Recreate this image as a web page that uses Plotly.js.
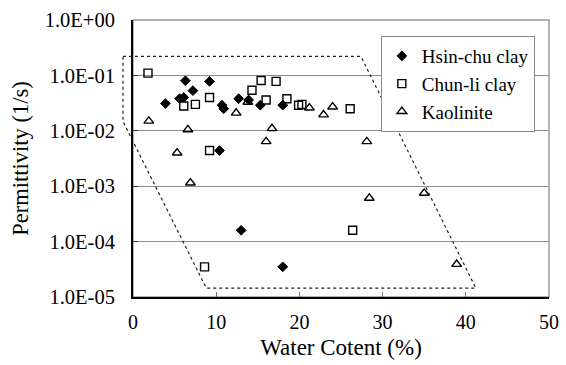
<!DOCTYPE html>
<html>
<head>
<meta charset="utf-8">
<script src="https://cdn.plot.ly/plotly-3.0.1.min.js"></script>
<style>
  html, body { margin: 0; padding: 0; background: #fff; }
  #chart { width: 566px; height: 365px; }
</style>
</head>
<body>
<div id="chart"></div>
<script>
// Water content (%) and permittivity (1/s) for each soil
const hsinchuWater = [3.9, 5.6, 6.1, 6.3, 7.2, 9.2, 10.7, 10.9, 10.4, 12.7, 13.9, 15.3, 18.0, 13.0, 18.0];
const hsinchuPerm  = [0.031, 0.038, 0.040, 0.080, 0.053, 0.078, 0.029, 0.025, 0.0044, 0.038, 0.036, 0.029, 0.029, 0.00016, 0.000035];

const chunliWater = [1.8, 6.1, 7.5, 9.2, 9.2, 14.3, 15.4, 17.2, 16.0, 18.5, 19.9, 20.3, 26.1, 8.6, 26.4];
const chunliPerm  = [0.110, 0.028, 0.030, 0.040, 0.0044, 0.054, 0.081, 0.078, 0.036, 0.038, 0.029, 0.030, 0.025, 0.000035, 0.00016];

const kaolinWater = [1.9, 6.6, 5.3, 6.9, 12.4, 13.8, 16.7, 16.0, 21.2, 22.9, 24.0, 28.1, 28.4, 31.3, 35.0, 38.9];
const kaolinPerm  = [0.015, 0.0105, 0.0040, 0.00115, 0.021, 0.033, 0.011, 0.0064, 0.026, 0.0195, 0.027, 0.0064, 0.00061, 0.016, 0.00075, 0.000039];

// Envelope enclosing the measurements (closed outline)
const envelopeWater = [-1.2, 27.4, 41.2, 8.8, -1.2];
const envelopePerm  = [0.22, 0.22, 1.45e-5, 1.45e-5, 0.0148];

const seriesNames = ['Hsin-chu clay', 'Chun-li clay', 'Kaolinite'];
const yTickVals = [1e-5, 1e-4, 1e-3, 1e-2, 1e-1, 1];
const yTickText = ['1.0E-05', '1.0E-04', '1.0E-03', '1.0E-02', '1.0E-01', '1.0E+00'];
const xTickVals = [0, 10, 20, 30, 40, 50];

const xRange = [0, 50];
const yRangeLog = [-5, 0];

// The envelope reaches past the left axis, so it is laid out in paper
// space (unclipped) using the same linear / log mapping as the axes.
function envelopePath(xs, ys) {
  const px = v => (v - xRange[0]) / (xRange[1] - xRange[0]);
  const py = v => (Math.log10(v) - yRangeLog[0]) / (yRangeLog[1] - yRangeLog[0]);
  return xs.map((x, i) => (i ? 'L' : 'M') + px(x).toFixed(5) + ',' + py(ys[i]).toFixed(5)).join(' ') + ' Z';
}

const serif = 'Liberation Serif';

const traces = [
  { x: hsinchuWater, y: hsinchuPerm, name: seriesNames[0], type: 'scatter', mode: 'markers', legendgroup: 'a',
    marker: { symbol: 'diamond', size: 7.5, color: '#000', line: { color: '#000', width: 1 } } },
  { x: chunliWater, y: chunliPerm, name: seriesNames[1], type: 'scatter', mode: 'markers', legendgroup: 'b',
    marker: { symbol: 'square-open', size: 8, color: '#000', line: { color: '#000', width: 1.4 } } },
  { x: kaolinWater, y: kaolinPerm, name: seriesNames[2], type: 'scatter', mode: 'markers', legendgroup: 'c',
    marker: { symbol: 'triangle-up-open', size: 8.5, color: '#000', line: { color: '#000', width: 1.4 } } }
];

const layout = {
  width: 566, height: 365,
  margin: { l: 133, r: 17, t: 20, b: 68 },
  paper_bgcolor: '#fff', plot_bgcolor: '#fff',
  font: { family: serif, color: '#000', size: 19 },
  showlegend: true,
  legend: {
    x: 0.966, xanchor: 'right', y: 0.942, yanchor: 'top',
    bgcolor: '#fff', bordercolor: '#8a8a8a', borderwidth: 1,
    font: { family: serif, size: 19, color: '#000' },
    traceorder: 'grouped', tracegroupgap: 0
  },
  xaxis: {
    range: xRange, tickvals: xTickVals, ticks: 'inside', ticklen: 5, tickcolor: '#777', tickwidth: 1,
    showline: true, linecolor: '#000', linewidth: 2, showgrid: false, zeroline: false,
    tickfont: { family: serif, size: 20, color: '#000' }, ticklabelstandoff: 6,
    title: { text: 'Water Cotent (%)', font: { family: serif, size: 23, color: '#000' }, standoff: 7 },
    automargin: false
  },
  yaxis: {
    type: 'log', range: yRangeLog, tickvals: yTickVals, ticktext: yTickText,
    ticks: 'inside', ticklen: 5, tickcolor: '#333', tickwidth: 1,
    showline: true, linecolor: '#000', linewidth: 2,
    showgrid: true, gridcolor: '#8c8c8c', gridwidth: 1, zeroline: false,
    tickfont: { family: serif, size: 20.5, color: '#000' }, ticklabelstandoff: 12,
    title: { text: 'Permittivity (1/s)', font: { family: serif, size: 22.5, color: '#000' }, standoff: 10 },
    automargin: false
  },
  shapes: [
    { type: 'rect', xref: 'paper', yref: 'paper', x0: 0, x1: 1, y0: 0, y1: 1,
      line: { color: '#9a9a9a', width: 1.5 }, layer: 'below' },
    { type: 'path', xref: 'paper', yref: 'paper', path: envelopePath(envelopeWater, envelopePerm),
      line: { color: '#222', width: 1.2, dash: 'dot' }, layer: 'above' }
  ]
};

Plotly.newPlot('chart', traces, layout, { displayModeBar: false, staticPlot: true });
</script>
</body>
</html>
